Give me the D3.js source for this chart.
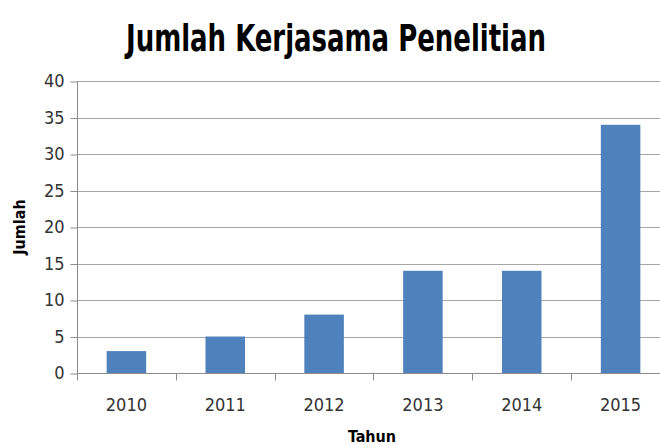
<!DOCTYPE html>
<html lang="en">
<head>
<meta charset="UTF-8">
<title>Jumlah Kerjasama Penelitian</title>
<script src="https://d3js.org/d3.v7.min.js"></script>
<style>
  body { margin: 0; background: #fff; }
  text { font-family: "Liberation Sans Narrow", "DejaVu Sans Condensed", "Open Sans", sans-serif; }
  .grid line { stroke: #a6a6a6; stroke-width: 1px; }
  .axis path, .axis line { stroke: #8c8c8c; }
  .axis text { fill: #333; font-size: 18px; font-family: "Liberation Sans Narrow", "DejaVu Sans Condensed", sans-serif; }
</style>
</head>
<body>
<div id="chart"></div>
<script>

var years = ["2010", "2011", "2012", "2013", "2014", "2015"];
var counts = [3, 5, 8, 14, 14, 34];
var yTicks = [0, 5, 10, 15, 20, 25, 30, 35, 40];

var width = 660, height = 445;
var plotLeft = 77, plotRight = 670, plotTop = 81, plotBottom = 373;

var svg = d3.select("#chart").append("svg")
    .attr("width", width)
    .attr("height", height);

var x = d3.scaleBand()
    .domain(years)
    .range([plotLeft, plotRight])
    .paddingInner(0.6)
    .paddingOuter(0.3);

var y = d3.scaleLinear()
    .domain([0, 40])
    .range([plotBottom, plotTop]);

// gridlines
svg.append("g")
    .attr("class", "grid")
  .selectAll("line")
    .data(yTicks.slice(1))
  .enter().append("line")
    .attr("x1", plotLeft)
    .attr("x2", width)
    .attr("y1", function(d) { return Math.round(y(d)) + 0.5; })
    .attr("y2", function(d) { return Math.round(y(d)) + 0.5; });

// bars
svg.append("g")
  .selectAll("rect")
    .data(counts)
  .enter().append("rect")
    .attr("x", function(d, i) { return x(years[i]); })
    .attr("width", x.bandwidth())
    .attr("y", function(d) { return y(d); })
    .attr("height", function(d) { return y(0) - y(d); })
    .attr("fill", "#4f81bd");

// y axis
var yAxis = svg.append("g")
    .attr("class", "axis")
    .attr("transform", "translate(" + (plotLeft + 0.5) + ",0)")
    .call(d3.axisLeft(y).tickValues(yTicks).tickSize(7).tickPadding(6).tickSizeOuter(0));
yAxis.select(".domain").attr("d", "M0," + plotTop + "V" + plotBottom);
yAxis.selectAll(".tick line").attr("transform", "translate(0,0.5)");

// x axis: ticks at category boundaries
var step = x.step();
var bounds = years.map(function(d) { return x(d) + x.bandwidth() / 2 - step / 2; })
    .concat([x(years[years.length - 1]) + x.bandwidth() / 2 + step / 2]);
var xAxis = svg.append("g")
    .attr("class", "axis")
    .attr("transform", "translate(0," + (Math.round(plotBottom) + 0.5) + ")");
xAxis.append("line")
    .attr("x1", plotLeft).attr("x2", width);
xAxis.selectAll(".tk")
    .data(bounds)
  .enter().append("line")
    .attr("x1", function(d) { return Math.round(d) + 0.5; })
    .attr("x2", function(d) { return Math.round(d) + 0.5; })
    .attr("y1", 0).attr("y2", 7);
xAxis.selectAll(".lbl")
    .data(years)
  .enter().append("text")
    .attr("x", function(d) { return x(d) + x.bandwidth() / 2; })
    .attr("y", 37)
    .attr("text-anchor", "middle")
    .text(function(d) { return d; });

// title
svg.append("text")
    .attr("x", 336)
    .attr("y", 51)
    .attr("text-anchor", "middle")
    .attr("font-size", 38)
    .attr("font-weight", "bold")
    .attr("textLength", 420)
    .attr("lengthAdjust", "spacingAndGlyphs")
    .text("Jumlah Kerjasama Penelitian");

// axis titles
svg.append("text")
    .attr("transform", "translate(25,227) rotate(-90)")
    .attr("text-anchor", "middle")
    .attr("font-size", 16)
    .attr("font-weight", "bold")
    .text("Jumlah");

svg.append("text")
    .attr("x", 372)
    .attr("y", 442)
    .attr("text-anchor", "middle")
    .attr("font-size", 16)
    .attr("font-weight", "bold")
    .text("Tahun");

</script>
</body>
</html>
